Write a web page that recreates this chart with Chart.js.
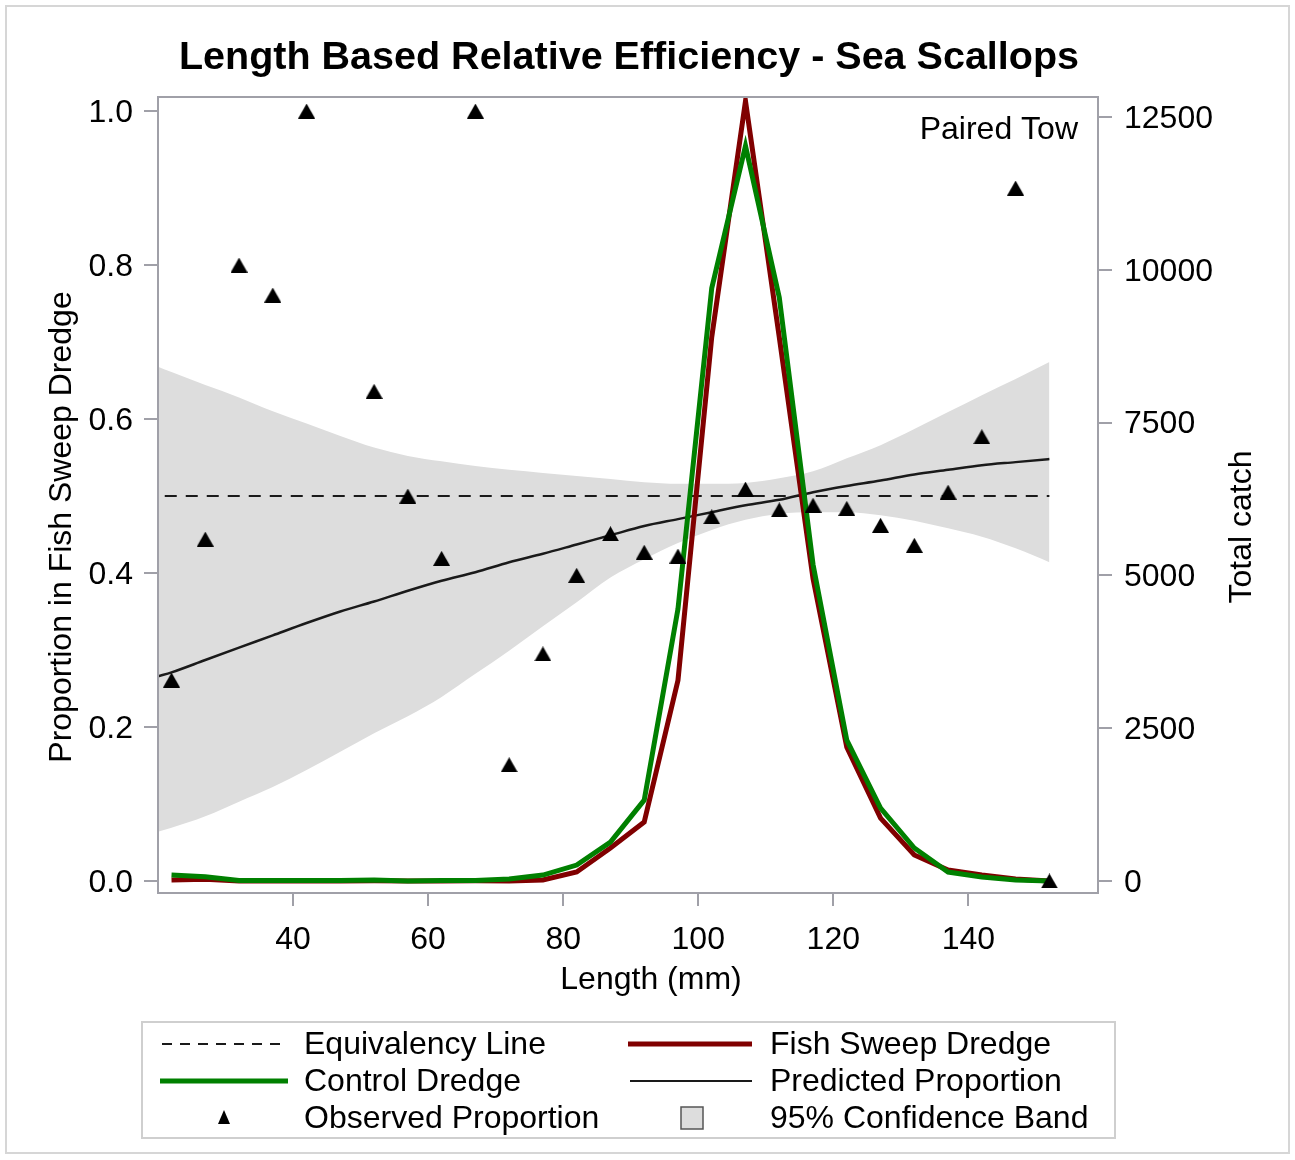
<!DOCTYPE html>
<html>
<head>
<meta charset="utf-8">
<script src="https://cdn.jsdelivr.net/npm/chart.js@4.4.1/dist/chart.umd.min.js"></script>
<style>
  body { margin: 0; background: #fff; }
  .graph { width: 1295px; height: 1160px; position: relative; }
</style>
</head>
<body>
<div class="graph">
  <canvas id="canv"></canvas>
</div>
<script>
// observed lengths (mm)
const lengthMm = [22, 27, 32, 37, 42, 47, 52, 57, 62, 67, 72, 77, 82, 87, 92, 97, 102, 107, 112, 117, 122, 127, 132, 137, 142, 147, 152];
const observedProp = [0.261, 0.444, 0.80, 0.761, 1.0, null, 0.636, 0.5, 0.419, 1.0, 0.151, 0.295, 0.397, 0.451, 0.427, 0.422, 0.473, 0.509, 0.482, 0.488, 0.484, 0.462, 0.436, 0.505, 0.577, 0.9, 0.0];
const fishSweepCatch = [16, 30, 0, 0, 0, 0, 5, 0, 0, 5, 0, 16, 147, 540, 964, 3284, 8900, 12760, 8900, 4950, 2190, 1030, 425, 180, 98, 33, 0];
const controlCatch = [98, 70, 10, 10, 10, 10, 15, 0, 10, 10, 33, 98, 261, 637, 1323, 4450, 9700, 12026, 9548, 5180, 2304, 1193, 540, 147, 65, 16, 0];

// fitted curve and 95% band
const fitLength = [20, 22, 27, 32, 37, 42, 47, 52, 57, 62, 67, 72, 77, 82, 87, 92, 97, 102, 107, 112, 117, 122, 127, 132, 137, 142, 147, 152];
const fitProp = [0.266, 0.271, 0.287, 0.303, 0.319, 0.335, 0.350, 0.363, 0.377, 0.390, 0.401, 0.414, 0.425, 0.437, 0.449, 0.461, 0.470, 0.479, 0.488, 0.495, 0.505, 0.513, 0.520, 0.528, 0.534, 0.540, 0.544, 0.548];
const bandUpper = [0.668, 0.661, 0.644, 0.628, 0.610, 0.594, 0.578, 0.563, 0.552, 0.545, 0.539, 0.534, 0.530, 0.526, 0.522, 0.518, 0.516, 0.516, 0.517, 0.523, 0.532, 0.549, 0.566, 0.587, 0.609, 0.631, 0.652, 0.674];
const bandLower = [0.064, 0.069, 0.084, 0.103, 0.122, 0.144, 0.168, 0.192, 0.214, 0.239, 0.269, 0.299, 0.331, 0.362, 0.394, 0.418, 0.439, 0.456, 0.469, 0.477, 0.479, 0.479, 0.475, 0.468, 0.458, 0.447, 0.432, 0.414];

const equivLength = [21, 152];
const equivProp = [0.5, 0.5];

// tick labels
const lengthTicks = [40, 60, 80, 100, 120, 140];
const propTicks = [0, 0.2, 0.4, 0.6, 0.8, 1.0];
const catchTicks = [0, 2500, 5000, 7500, 10000, 12500];

const FONT = '"Liberation Sans", Arial, sans-serif';
const frameColor = '#a0a0a8';
const redColor = '#800000';
const greenColor = '#008000';
const bandColor = '#dddddd';
const inkColor = '#1a1a1a';

const pairs = (xs, ys) => xs.map((x, i) => ({x: x, y: ys[i]})).filter(p => p.y !== null);

// triangle marker centred on its box, like the SAS one
const makeTriangle = (w, h) => {
    const c = document.createElement('canvas');
    c.width = w;
    c.height = h;
    const t = c.getContext('2d');
    t.fillStyle = '#000';
    t.beginPath();
    t.moveTo(w / 2, 0);
    t.lineTo(w, h);
    t.lineTo(0, h);
    t.closePath();
    t.fill();
    return c;
};
const triangleMark = makeTriangle(17, 15);

const decorations = {
    id: 'decorations',
    beforeDraw(chart) {
        const ctx = chart.ctx;
        ctx.save();
        ctx.fillStyle = '#fff';
        ctx.fillRect(0, 0, chart.width, chart.height);
        ctx.strokeStyle = '#d6d6d6';
        ctx.lineWidth = 2;
        ctx.strokeRect(6, 6, chart.width - 12, chart.height - 13);
        ctx.restore();
    },
    afterDraw(chart) {
        const ctx = chart.ctx;
        const a = chart.chartArea;
        ctx.save();

        // plot frame
        ctx.strokeStyle = frameColor;
        ctx.lineWidth = 2;
        ctx.strokeRect(a.left, a.top, a.right - a.left, a.bottom - a.top);

        ctx.fillStyle = '#000';
        ctx.textBaseline = 'middle';

        // title
        ctx.font = 'bold 39.5px ' + FONT;
        ctx.textAlign = 'center';
        ctx.fillText('Length Based Relative Efficiency - Sea Scallops', 629, 58);

        // axis titles
        ctx.font = '32px ' + FONT;
        ctx.fillText('Length (mm)', 651, 980);
        ctx.save();
        ctx.translate(62, 527);
        ctx.rotate(-Math.PI / 2);
        ctx.fillText('Proportion in Fish Sweep Dredge', 0, 0);
        ctx.restore();
        ctx.save();
        ctx.translate(1242, 527);
        ctx.rotate(-Math.PI / 2);
        ctx.fillText('Total catch', 0, 0);
        ctx.restore();

        ctx.textAlign = 'right';
        ctx.fillText('Paired Tow', 1078, 130);

        // legend
        ctx.strokeStyle = '#cfcfcf';
        ctx.lineWidth = 2;
        ctx.strokeRect(142, 1022, 973, 116);

        const rows = [1044, 1081, 1118];
        ctx.lineCap = 'butt';

        ctx.strokeStyle = inkColor;
        ctx.lineWidth = 2;
        ctx.setLineDash([10, 8]);
        ctx.beginPath(); ctx.moveTo(162, rows[0]); ctx.lineTo(288, rows[0]); ctx.stroke();
        ctx.setLineDash([]);

        ctx.strokeStyle = redColor;
        ctx.lineWidth = 5;
        ctx.beginPath(); ctx.moveTo(628, rows[0]); ctx.lineTo(752, rows[0]); ctx.stroke();

        ctx.strokeStyle = greenColor;
        ctx.beginPath(); ctx.moveTo(160, rows[1]); ctx.lineTo(288, rows[1]); ctx.stroke();

        ctx.strokeStyle = inkColor;
        ctx.lineWidth = 2;
        ctx.beginPath(); ctx.moveTo(630, rows[1]); ctx.lineTo(752, rows[1]); ctx.stroke();

        ctx.fillStyle = '#000';
        ctx.beginPath();
        ctx.moveTo(224, rows[2] - 8);
        ctx.lineTo(230, rows[2] + 6);
        ctx.lineTo(218, rows[2] + 6);
        ctx.closePath();
        ctx.fill();

        ctx.fillStyle = bandColor;
        ctx.fillRect(681, rows[2] - 11, 22, 22);
        ctx.strokeStyle = '#555';
        ctx.lineWidth = 1.5;
        ctx.strokeRect(681, rows[2] - 11, 22, 22);

        ctx.fillStyle = '#000';
        ctx.textAlign = 'left';
        ctx.font = '32px ' + FONT;
        ctx.fillText('Equivalency Line', 304, rows[0] + 1);
        ctx.fillText('Control Dredge', 304, rows[1] + 1);
        ctx.fillText('Observed Proportion', 304, rows[2] + 1);
        ctx.fillText('Fish Sweep Dredge', 770, rows[0] + 1);
        ctx.fillText('Predicted Proportion', 770, rows[1] + 1);
        ctx.fillText('95% Confidence Band', 770, rows[2] + 1);

        ctx.restore();
    }
};

const tickFont = {family: FONT, size: 32};

const chart = new Chart(document.getElementById('canv').getContext('2d'), {
    type: 'line',
    data: {
        datasets: [
            {
                label: 'Observed Proportion',
                type: 'scatter',
                data: pairs(lengthMm, observedProp),
                yAxisID: 'y',
                pointStyle: triangleMark,
                pointRadius: 9,
                showLine: false,
                order: 0
            },
            {
                label: 'Control Dredge',
                data: pairs(lengthMm, controlCatch),
                yAxisID: 'yCatch',
                borderColor: greenColor,
                borderWidth: 5,
                pointRadius: 0,
                tension: 0,
                order: 1
            },
            {
                label: 'Fish Sweep Dredge',
                data: pairs(lengthMm, fishSweepCatch),
                yAxisID: 'yCatch',
                borderColor: redColor,
                borderWidth: 5,
                pointRadius: 0,
                tension: 0,
                order: 2
            },
            {
                label: 'Predicted Proportion',
                data: pairs(fitLength, fitProp),
                yAxisID: 'y',
                borderColor: inkColor,
                borderWidth: 2.5,
                pointRadius: 0,
                cubicInterpolationMode: 'monotone',
                order: 3
            },
            {
                label: 'Equivalency Line',
                data: pairs(equivLength, equivProp),
                yAxisID: 'y',
                borderColor: inkColor,
                borderWidth: 2.2,
                borderDash: [12, 9],
                pointRadius: 0,
                order: 4
            },
            {
                label: 'band lower',
                data: pairs(fitLength, bandLower),
                yAxisID: 'y',
                borderWidth: 0,
                borderColor: 'rgba(0,0,0,0)',
                pointRadius: 0,
                cubicInterpolationMode: 'monotone',
                fill: false,
                order: 6
            },
            {
                label: '95% Confidence Band',
                data: pairs(fitLength, bandUpper),
                yAxisID: 'y',
                borderWidth: 0,
                borderColor: 'rgba(0,0,0,0)',
                backgroundColor: bandColor,
                pointRadius: 0,
                cubicInterpolationMode: 'monotone',
                fill: '-1',
                order: 5
            }
        ]
    },
    options: {
        responsive: true,
        maintainAspectRatio: false,
        devicePixelRatio: 1,
        animation: false,
        layout: {padding: {top: 97, left: 0, right: 0, bottom: 150}},
        plugins: {
            legend: {display: false},
            title: {display: false},
            tooltip: {enabled: false}
        },
        scales: {
            x: {
                type: 'linear',
                min: 20,
                max: 159.2,
                afterBuildTicks: s => { s.ticks = lengthTicks.map(v => ({value: v})); },
                afterFit: s => { s.height = 117; },
                ticks: {font: tickFont, color: '#000', padding: 15, maxRotation: 0},
                grid: {drawOnChartArea: false, drawTicks: true, tickLength: 13, color: frameColor, lineWidth: 2},
                border: {display: false}
            },
            y: {
                position: 'left',
                min: -0.0156,
                max: 1.0182,
                afterBuildTicks: s => { s.ticks = propTicks.map(v => ({value: v})); },
                afterFit: s => { s.width = 158; },
                ticks: {font: tickFont, color: '#000', padding: 11, labelOffset: 2, callback: v => v.toFixed(1)},
                grid: {drawOnChartArea: false, drawTicks: true, tickLength: 14, color: frameColor, lineWidth: 2},
                border: {display: false}
            },
            yCatch: {
                position: 'right',
                min: -196,
                max: 12827,
                afterBuildTicks: s => { s.ticks = catchTicks.map(v => ({value: v})); },
                afterFit: s => { s.width = 197; },
                ticks: {font: tickFont, color: '#000', padding: 12, labelOffset: 2, callback: v => String(v)},
                grid: {drawOnChartArea: false, drawTicks: true, tickLength: 14, color: frameColor, lineWidth: 2},
                border: {display: false}
            }
        }
    },
    plugins: [decorations]
});
</script>
</body>
</html>
